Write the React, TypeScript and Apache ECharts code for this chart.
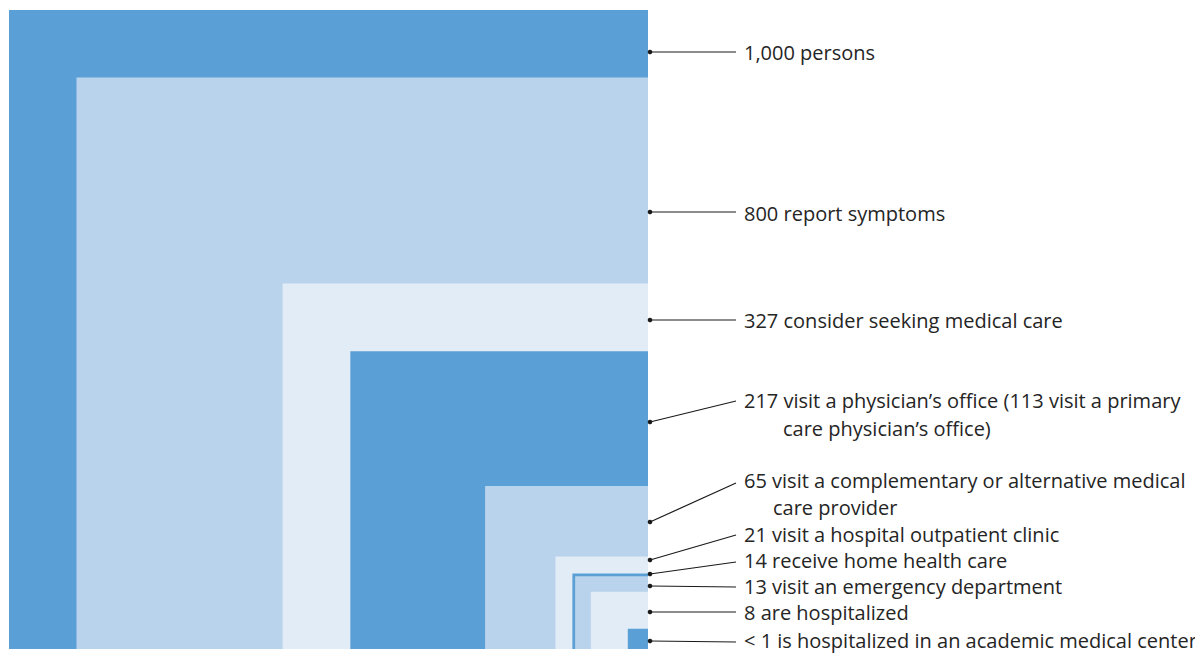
import React, { useEffect, useRef } from "react";
import * as echarts from "echarts";

// Nested squares: area proportional to number of persons (out of 1,000)
const groups = [
  "1,000 persons",
  "800 report symptoms",
  "327 consider seeking medical care",
  "217 visit a physician’s office",
  "65 visit a complementary or alternative medical care provider",
  "21 visit a hospital outpatient clinic",
  "14 receive home health care",
  "13 visit an emergency department",
  "8 are hospitalized",
  "< 1 is hospitalized in an academic medical center",
];
const persons = [1000, 800, 327, 217, 65, 21, 14, 13, 8, 1];
const total = 1000;

const MID = "#5a9fd5";
const LIGHT = "#b8d3eb";
const PALE = "#e2ecf7";
const squareColors = [MID, LIGHT, PALE, MID, LIGHT, PALE, MID, LIGHT, PALE, MID];

// label text lines (first line, optional continuation)
const labelLines: string[][] = [
  ["1,000 persons"],
  ["800 report symptoms"],
  ["327 consider seeking medical care"],
  ["217 visit a physician’s office (113 visit a primary", "care physician’s office)"],
  ["65 visit a complementary or alternative medical", "care provider"],
  ["21 visit a hospital outpatient clinic"],
  ["14 receive home health care"],
  ["13 visit an emergency department"],
  ["8 are hospitalized"],
  ["< 1 is hospitalized in an academic medical center"],
];

export default function App() {
  const ref = useRef<HTMLDivElement>(null);
  useEffect(() => {
    if (!ref.current) return;
    const chart = echarts.init(ref.current, null, { renderer: "svg" });

    // page offset (body margin)
    const o = 8;
    const dotX = 650 - o;
    const endX = 736 - o;
    const textX = 744 - o;
    const dotY = [52, 212, 320, 422, 522, 560, 574, 586, 612, 641].map((y) => y - o);
    const endY = [52, 212, 320, 401, 483, 535, 562, 587, 612, 642].map((y) => y - o);
    const textY = [52, 213, 320, 400, 480, 534, 560, 586, 612, 640].map((y) => y - o);
    const contX = [0, 0, 0, 783, 773, 0, 0, 0, 0, 0].map((x) => x - o);
    const contY = [0, 0, 0, 428, 507, 0, 0, 0, 0, 0].map((y) => y - o);

    const font = '"Open Sans", "Noto Sans", sans-serif';
    const textColor = "#252525";
    const graphics: any[] = [];
    labelLines.forEach((lines, i) => {
      graphics.push({
        type: "line",
        shape: { x1: dotX, y1: dotY[i], x2: endX, y2: endY[i] },
        style: { stroke: "#1a1a1a", lineWidth: 1.2 },
        z: 10,
      });
      graphics.push({
        type: "circle",
        shape: { cx: dotX, cy: dotY[i], r: 2.3 },
        style: { fill: "#1a1a1a" },
        z: 11,
      });
      graphics.push({
        type: "text",
        x: textX,
        y: textY[i],
        style: {
          text: lines[0],
          fill: textColor,
          font: `20px ${font}`,
          verticalAlign: "middle",
          align: "left",
        },
        z: 10,
      });
      if (lines[1]) {
        graphics.push({
          type: "text",
          x: contX[i],
          y: contY[i],
          style: {
            text: lines[1],
            fill: textColor,
            font: `20px ${font}`,
            verticalAlign: "middle",
            align: "left",
          },
          z: 10,
        });
      }
    });

    chart.setOption({
      animation: false,
      grid: { left: 9 - o, top: 10 - o, width: 639, height: 639 },
      xAxis: { type: "value", min: 0, max: 1, show: false },
      yAxis: { type: "value", min: 0, max: 1, show: false },
      tooltip: { show: false },
      series: [
        {
          type: "custom",
          name: "persons",
          data: persons.map((v, i) => ({
            name: groups[i],
            value: [v],
            itemStyle: { color: squareColors[i] },
          })),
          renderItem: (params: any, api: any) => {
            const v = api.value(0);
            const s = Math.sqrt(v / total);
            const tl = api.coord([1 - s, s]);
            const br = api.coord([1, 0]);
            return {
              type: "rect",
              shape: { x: tl[0], y: tl[1], width: br[0] - tl[0], height: br[1] - tl[1] },
              style: { fill: api.visual("color") },
            };
          },
        },
      ],
      graphic: graphics,
    });
    return () => chart.dispose();
  }, []);
  return <div ref={ref} style={{ width: 1195, height: 658, background: "#fff" }} />;
}
